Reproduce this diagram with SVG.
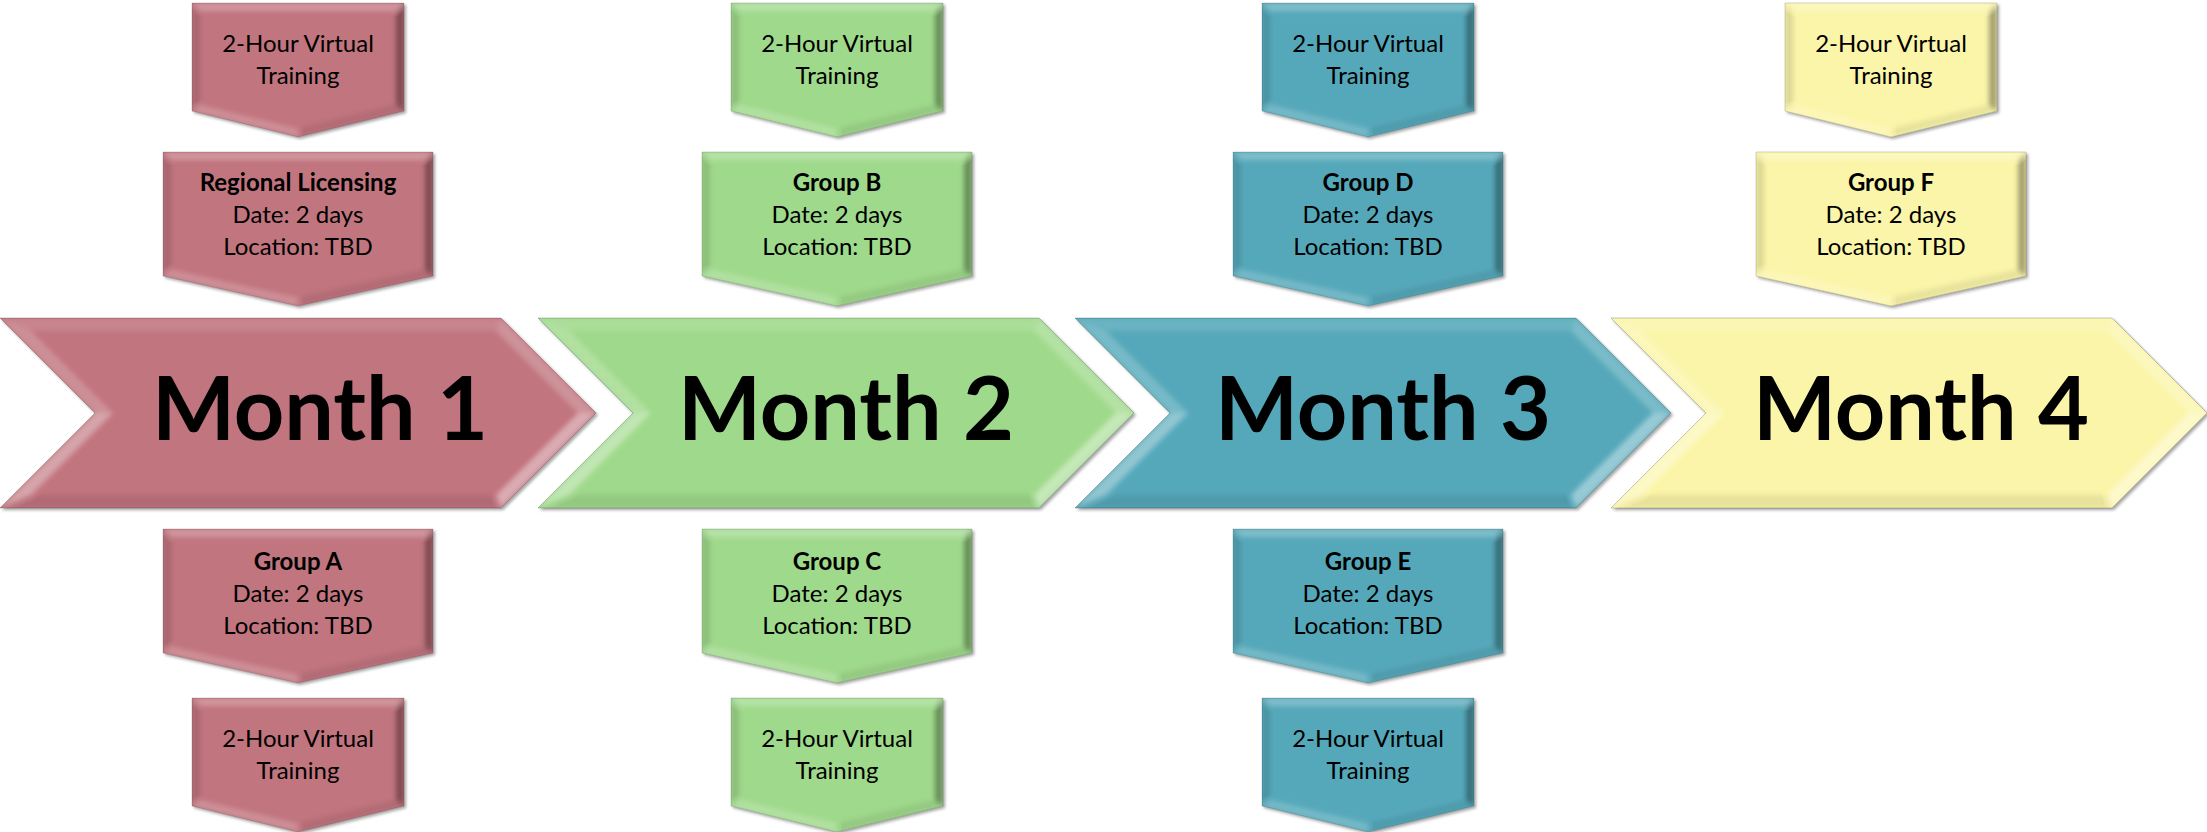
<svg xmlns="http://www.w3.org/2000/svg" xmlns:xlink="http://www.w3.org/1999/xlink" width="2207" height="832" viewBox="0 0 2207 832">
  <style>
    .box { font-family: Lato, "Liberation Sans", sans-serif; font-size: 24px; fill: #000; text-anchor: middle; }
    .b { font-weight: bold; }
    .month { font-family: Lato, "Liberation Sans", sans-serif; font-size: 88px; font-weight: bold; fill: #000; text-anchor: middle; }
    .red { fill: #C1747E; }
    .green { fill: #9FD98B; }
    .teal { fill: #55A8BA; }
    .yellow { fill: #FBF5A9; }
  </style>
  <defs>
    <filter id="shadow" x="-5%" y="-5%" width="115%" height="115%">
      <feDropShadow dx="2" dy="2" stdDeviation="1.5" flood-color="#000" flood-opacity="0.35"/>
    </filter>
    <filter id="soft" x="-10%" y="-10%" width="120%" height="120%">
      <feGaussianBlur stdDeviation="2.5"/>
    </filter>

    <!-- chevron -->
    <path id="chevShape" d="M0,0 H501 L596,95 L501,190 H0 L95,95 Z"/>
    <clipPath id="chevClip"><path d="M0,0 H501 L596,95 L501,190 H0 L95,95 Z"/></clipPath>
    <g id="chevron">
      <use xlink:href="#chevShape"/>
      <g clip-path="url(#chevClip)">
        <g filter="url(#soft)">
          <polygon points="0,0 501,0 496,13 31,13" fill="#fff" fill-opacity="0.12"/>
          <polygon points="501,0 596,95 578,95 496,13" fill="#fff" fill-opacity="0.22"/>
          <polygon points="596,95 501,190 496,177 578,95" fill="#fff" fill-opacity="0.4"/>
          <polygon points="501,190 0,190 31,177 496,177" fill="#000" fill-opacity="0.08"/>
          <polygon points="0,190 95,95 113,95 31,177" fill="#fff" fill-opacity="0.35"/>
          <polygon points="95,95 0,0 31,13 113,95" fill="#fff" fill-opacity="0.2"/>
        </g>
      </g>
      <use xlink:href="#chevShape" fill="none" stroke="#000" stroke-opacity="0.2" stroke-width="1"/>
    </g>

    <!-- small down box -->
    <path id="smallShape" d="M0,0 H212 V108 L106,134 L0,108 Z"/>
    <clipPath id="smallClip"><path d="M0,0 H212 V108 L106,134 L0,108 Z"/></clipPath>
    <g id="smallBox">
      <use xlink:href="#smallShape"/>
      <g clip-path="url(#smallClip)">
        <g filter="url(#soft)">
          <polygon points="0,0 212,0 204,8 8,8" fill="#fff" fill-opacity="0.25"/>
          <polygon points="212,0 212,108 204,101.7 204,8" fill="#000" fill-opacity="0.35"/>
          <polygon points="212,108 106,134 106,125.8 204,101.7" fill="#000" fill-opacity="0.08"/>
          <polygon points="106,134 0,108 8,101.7 106,125.8" fill="#fff" fill-opacity="0.2"/>
          <polygon points="0,108 0,0 8,8 8,101.7" fill="#000" fill-opacity="0.12"/>
        </g>
      </g>
      <use xlink:href="#smallShape" fill="none" stroke="#000" stroke-opacity="0.15" stroke-width="1"/>
    </g>

    <!-- big down box -->
    <path id="bigShape" d="M0,0 H270 V124 L135,154 L0,124 Z"/>
    <clipPath id="bigClip"><path d="M0,0 H270 V124 L135,154 L0,124 Z"/></clipPath>
    <g id="bigBox">
      <use xlink:href="#bigShape"/>
      <g clip-path="url(#bigClip)">
        <g filter="url(#soft)">
          <polygon points="0,0 270,0 262,8 8,8" fill="#fff" fill-opacity="0.25"/>
          <polygon points="270,0 270,124 262,117.6 262,8" fill="#000" fill-opacity="0.35"/>
          <polygon points="270,124 135,154 135,145.8 262,117.6" fill="#000" fill-opacity="0.08"/>
          <polygon points="135,154 0,124 8,117.6 135,145.8" fill="#fff" fill-opacity="0.2"/>
          <polygon points="0,124 0,0 8,8 8,117.6" fill="#000" fill-opacity="0.12"/>
        </g>
      </g>
      <use xlink:href="#bigShape" fill="none" stroke="#000" stroke-opacity="0.15" stroke-width="1"/>
    </g>
  </defs>

  <rect width="2207" height="832" fill="#fff"/>

  <!-- Chevrons -->
  <g id="month1">
    <use xlink:href="#chevron" x="0" y="318" class="red" filter="url(#shadow)"/>
    <text class="month" x="320" y="440">Month 1</text>
  </g>
  <g id="month2">
    <use xlink:href="#chevron" x="538" y="318" class="green" filter="url(#shadow)"/>
    <text class="month" x="846" y="440">Month 2</text>
  </g>
  <g id="month3">
    <use xlink:href="#chevron" x="1075" y="318" class="teal" filter="url(#shadow)"/>
    <text class="month" x="1383" y="440">Month 3</text>
  </g>
  <g id="month4">
    <use xlink:href="#chevron" x="1611" y="318" class="yellow" filter="url(#shadow)"/>
    <text class="month" x="1921" y="440">Month 4</text>
  </g>

  <!-- Column 1 -->
  <g id="m1-top-virtual">
    <use xlink:href="#smallBox" x="192" y="3" class="red" filter="url(#shadow)"/>
    <text class="box" x="298" y="52">2-Hour Virtual</text>
    <text class="box" x="298" y="84">Training</text>
  </g>
  <g id="m1-regional-licensing">
    <use xlink:href="#bigBox" x="163" y="152" class="red" filter="url(#shadow)"/>
    <text class="box b" x="298" y="191">Regional Licensing</text>
    <text class="box" x="298" y="223">Date: 2 days</text>
    <text class="box" x="298" y="255">Location: TBD</text>
  </g>
  <g id="m1-group-a">
    <use xlink:href="#bigBox" x="163" y="529" class="red" filter="url(#shadow)"/>
    <text class="box b" x="298" y="570">Group A</text>
    <text class="box" x="298" y="602">Date: 2 days</text>
    <text class="box" x="298" y="634">Location: TBD</text>
  </g>
  <g id="m1-bottom-virtual">
    <use xlink:href="#smallBox" x="192" y="698" class="red" filter="url(#shadow)"/>
    <text class="box" x="298" y="747">2-Hour Virtual</text>
    <text class="box" x="298" y="779">Training</text>
  </g>

  <!-- Column 2 -->
  <g id="m2-top-virtual">
    <use xlink:href="#smallBox" x="731" y="3" class="green" filter="url(#shadow)"/>
    <text class="box" x="837" y="52">2-Hour Virtual</text>
    <text class="box" x="837" y="84">Training</text>
  </g>
  <g id="m2-group-b">
    <use xlink:href="#bigBox" x="702" y="152" class="green" filter="url(#shadow)"/>
    <text class="box b" x="837" y="191">Group B</text>
    <text class="box" x="837" y="223">Date: 2 days</text>
    <text class="box" x="837" y="255">Location: TBD</text>
  </g>
  <g id="m2-group-c">
    <use xlink:href="#bigBox" x="702" y="529" class="green" filter="url(#shadow)"/>
    <text class="box b" x="837" y="570">Group C</text>
    <text class="box" x="837" y="602">Date: 2 days</text>
    <text class="box" x="837" y="634">Location: TBD</text>
  </g>
  <g id="m2-bottom-virtual">
    <use xlink:href="#smallBox" x="731" y="698" class="green" filter="url(#shadow)"/>
    <text class="box" x="837" y="747">2-Hour Virtual</text>
    <text class="box" x="837" y="779">Training</text>
  </g>

  <!-- Column 3 -->
  <g id="m3-top-virtual">
    <use xlink:href="#smallBox" x="1262" y="3" class="teal" filter="url(#shadow)"/>
    <text class="box" x="1368" y="52">2-Hour Virtual</text>
    <text class="box" x="1368" y="84">Training</text>
  </g>
  <g id="m3-group-d">
    <use xlink:href="#bigBox" x="1233" y="152" class="teal" filter="url(#shadow)"/>
    <text class="box b" x="1368" y="191">Group D</text>
    <text class="box" x="1368" y="223">Date: 2 days</text>
    <text class="box" x="1368" y="255">Location: TBD</text>
  </g>
  <g id="m3-group-e">
    <use xlink:href="#bigBox" x="1233" y="529" class="teal" filter="url(#shadow)"/>
    <text class="box b" x="1368" y="570">Group E</text>
    <text class="box" x="1368" y="602">Date: 2 days</text>
    <text class="box" x="1368" y="634">Location: TBD</text>
  </g>
  <g id="m3-bottom-virtual">
    <use xlink:href="#smallBox" x="1262" y="698" class="teal" filter="url(#shadow)"/>
    <text class="box" x="1368" y="747">2-Hour Virtual</text>
    <text class="box" x="1368" y="779">Training</text>
  </g>

  <!-- Column 4 -->
  <g id="m4-top-virtual">
    <use xlink:href="#smallBox" x="1785" y="3" class="yellow" filter="url(#shadow)"/>
    <text class="box" x="1891" y="52">2-Hour Virtual</text>
    <text class="box" x="1891" y="84">Training</text>
  </g>
  <g id="m4-group-f">
    <use xlink:href="#bigBox" x="1756" y="152" class="yellow" filter="url(#shadow)"/>
    <text class="box b" x="1891" y="191">Group F</text>
    <text class="box" x="1891" y="223">Date: 2 days</text>
    <text class="box" x="1891" y="255">Location: TBD</text>
  </g>

  <g id="connectors"/>
</svg>
